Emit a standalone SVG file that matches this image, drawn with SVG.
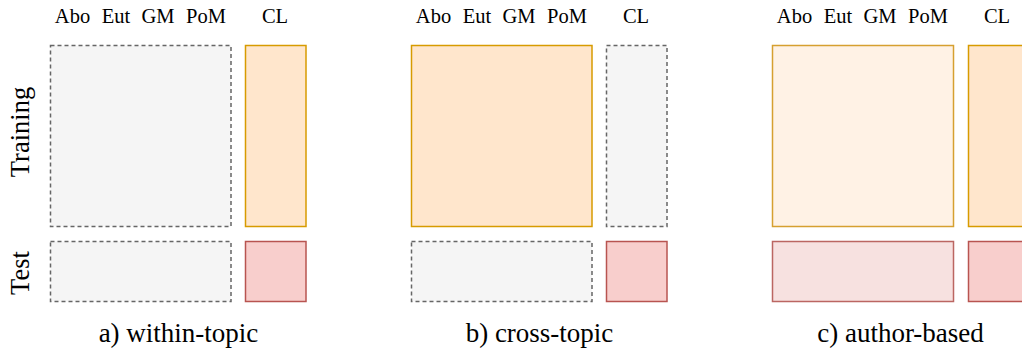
<svg xmlns="http://www.w3.org/2000/svg" width="1022" height="351" viewBox="0 0 1022 351">
<style>
text{font-family:"Liberation Serif","Times New Roman",serif;fill:#000}
.h{font-size:20.5px;text-anchor:middle}
.cap{font-size:27px;text-anchor:middle}
.side{font-size:26.5px;text-anchor:middle}
.grey{fill:#f5f5f5;stroke:#666666;stroke-width:1.5;stroke-dasharray:4 3}
.org{fill:#ffe6cc;stroke:#d79b00;stroke-width:1.5}
.orgl{fill:#fff2e5;stroke:#d6a030;stroke-width:1.5}
.red{fill:#f8cecc;stroke:#b85450;stroke-width:1.5}
.redl{fill:#f7e1e0;stroke:#bb6662;stroke-width:1.5}
</style>
<g id="side-labels">
<text class="side" transform="translate(29,132) rotate(-90)">Training</text>
<text class="side" transform="translate(29,273) rotate(-90)">Test</text>
</g>
<g id="panel-a">
<g class="headers">
<text class="h" x="72.5" y="23">Abo</text>
<text class="h" x="116" y="23">Eut</text>
<text class="h" x="158" y="23">GM</text>
<text class="h" x="206" y="23">PoM</text>
<text class="h" x="275" y="23">CL</text>
</g>
<rect id="a-train-topics" class="grey" x="50.5" y="45.5" width="180.5" height="181"/>
<rect id="a-train-cl" class="org" x="245.5" y="45.5" width="60.5" height="181"/>
<rect id="a-test-topics" class="grey" x="50.5" y="241.5" width="180.5" height="60"/>
<rect id="a-test-cl" class="red" x="245.5" y="241.5" width="60.5" height="60"/>
<text class="cap" x="178.5" y="341.5">a) within-topic</text>
</g>
<g id="panel-b">
<g class="headers">
<text class="h" x="433.5" y="23">Abo</text>
<text class="h" x="477" y="23">Eut</text>
<text class="h" x="519" y="23">GM</text>
<text class="h" x="567" y="23">PoM</text>
<text class="h" x="636" y="23">CL</text>
</g>
<rect id="b-train-topics" class="org" x="411.5" y="45.5" width="180.5" height="181"/>
<rect id="b-train-cl" class="grey" x="606.5" y="45.5" width="60.5" height="181"/>
<rect id="b-test-topics" class="grey" x="411.5" y="241.5" width="180.5" height="60"/>
<rect id="b-test-cl" class="red" x="606.5" y="241.5" width="60.5" height="60"/>
<text class="cap" x="539.5" y="341.5">b) cross-topic</text>
</g>
<g id="panel-c">
<g class="headers">
<text class="h" x="794.5" y="23">Abo</text>
<text class="h" x="838" y="23">Eut</text>
<text class="h" x="880" y="23">GM</text>
<text class="h" x="928" y="23">PoM</text>
<text class="h" x="997" y="23">CL</text>
</g>
<rect id="c-train-topics" class="orgl" x="772.5" y="45.5" width="181" height="181"/>
<rect id="c-train-cl" class="org" x="968.5" y="45.5" width="60.5" height="181"/>
<rect id="c-test-topics" class="redl" x="772.5" y="241.5" width="181" height="60"/>
<rect id="c-test-cl" class="red" x="968.5" y="241.5" width="60.5" height="60"/>
<text class="cap" x="900.5" y="341.5">c) author-based</text>
</g>
<g id="connectors"/>
</svg>
